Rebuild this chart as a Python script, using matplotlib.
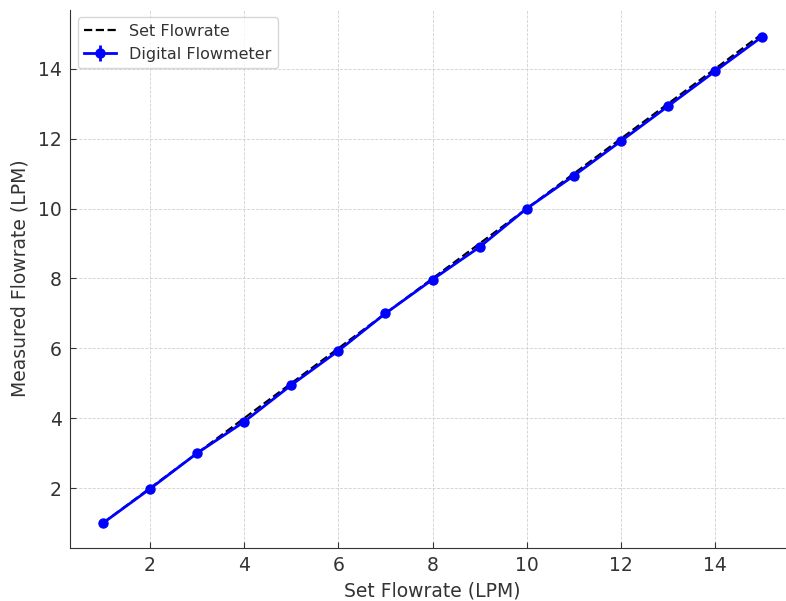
import matplotlib.pyplot as plt
import numpy as np

# 설정 유량 vs 측정 유량
set_flow = [1, 2, 3, 4, 5, 6, 7, 8, 9, 10, 11, 12, 13, 14, 15]
measured_flow = [1.0, 1.98, 3.0, 3.9, 4.95, 5.93, 7.0, 7.97, 8.9, 10.0, 10.94, 11.93, 12.93, 13.93, 14.92]
flow_err = [0.05] * 15

fig = plt.figure(figsize=(7.86, 6.01), dpi=100)
ax = fig.add_axes([70 / 786, (601 - 547.5) / 601, 725 / 786, 538 / 601])

ax.plot(set_flow, set_flow, 'k--', linewidth=1.6, label='Set Flowrate')
ax.errorbar(set_flow, measured_flow, yerr=flow_err, fmt='-o', color='blue',
            linewidth=2, markersize=6.5, label='Digital Flowmeter')

ax.set_xlim(0.3, 15.7)
ax.set_ylim(0.3, 15.7)
ax.set_xticks([2, 4, 6, 8, 10, 12, 14])
ax.set_yticks([2, 4, 6, 8, 10, 12, 14])
ax.set_xlabel('Set Flowrate (LPM)', fontsize=13.5, color='#333333', labelpad=5)
ax.set_ylabel('Measured Flowrate (LPM)', fontsize=13.5, color='#333333', labelpad=6)
ax.tick_params(direction='in', labelsize=13.5, colors='#333333', length=4, pad=6)

ax.spines['top'].set_visible(False)
ax.spines['right'].set_visible(False)
ax.spines['left'].set_color('#333333')
ax.spines['bottom'].set_color('#333333')
ax.grid(True, linestyle='--', color='#d0d0d0', linewidth=0.6)

leg = ax.legend(loc='upper left', fontsize=11.5, frameon=True)
for t in leg.get_texts():
    t.set_color('#333333')

fig.savefig('out.png', dpi=100)
